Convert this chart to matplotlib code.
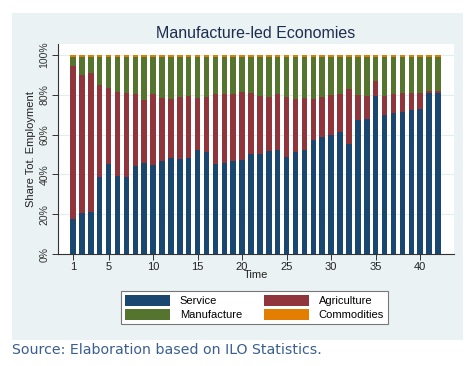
import matplotlib
matplotlib.use("Agg")
import matplotlib.pyplot as plt
import matplotlib.patches as mpatches
import numpy as np

time = list(range(1, 43))
service = [17.6, 20.8, 21.3, 38.5, 45.4, 39.2, 38.9, 44.2, 45.9, 44.6,
           46.9, 48.4, 47.6, 48.4, 52.3, 51.4, 45.4, 45.7, 46.6, 47.4,
           50.3, 50.4, 51.6, 52.1, 48.9, 51.3, 52.4, 57.5, 58.6, 59.8,
           61.3, 55.1, 67.5, 68.0, 79.6, 69.7, 71.0, 71.5, 72.4, 72.9,
           80.7, 80.7]
agri_top = [94.5, 90.1, 90.8, 84.9, 83.2, 81.6, 80.9, 80.2, 77.4, 80.2,
            78.2, 77.9, 79.1, 79.6, 78.2, 79.1, 80.4, 80.4, 80.4, 81.6,
            80.8, 79.6, 79.1, 80.2, 78.7, 77.7, 78.2, 77.9, 78.7, 79.7,
            80.4, 82.9, 79.9, 79.6, 87.1, 79.6, 80.4, 80.8, 80.8, 81.1,
            81.9, 81.9]
agriculture = [a - s for a, s in zip(agri_top, service)]
commodities = [0.8] * 42
manufacture = [100 - a - c for a, c in zip(agri_top, commodities)]

colors = {"Service": "#1a476f", "Agriculture": "#90353b",
          "Manufacture": "#55752f", "Commodities": "#e37e00"}

W, H = 472, 366
fig = plt.figure(figsize=(W / 100, H / 100), dpi=100)
fig.patch.set_facecolor("white")
bg = mpatches.Rectangle((12 / W, (H - 340) / H), 451 / W, 327 / H,
                        transform=fig.transFigure, facecolor="#eaf2f3",
                        edgecolor="none", zorder=-10)
fig.patches.append(bg)

ax = fig.add_axes([58 / W, (H - 254) / H, (454 - 58) / W, (254 - 44) / H])
ax.set_zorder(1)
ax.set_facecolor("white")
x = np.array(time)
w = 0.62
ax.bar(x, service, w, color=colors["Service"], label="Service", zorder=2)
ax.bar(x, agriculture, w, bottom=service, color=colors["Agriculture"], label="Agriculture", zorder=2)
ax.bar(x, manufacture, w, bottom=agri_top, color=colors["Manufacture"], label="Manufacture", zorder=2)
ax.bar(x, commodities, w, bottom=[a + m for a, m in zip(agri_top, manufacture)],
       color=colors["Commodities"], label="Commodities", zorder=2)

ax.set_xlim(-0.68, 43.8)
ax.set_ylim(0, 105.5)
ax.set_yticks([0, 20, 40, 60, 80, 100])
ax.set_yticklabels(["0%", "20%", "40%", "60%", "80%", "100%"], rotation=90,
                   va="center", fontsize=7.5, family="Liberation Sans", color="#333333")
ax.set_xticks([1, 5, 10, 15, 20, 25, 30, 35, 40])
ax.set_xticklabels(["1", "5", "10", "15", "20", "25", "30", "35", "40"],
                   fontsize=8, family="Liberation Sans", color="#222222")
ax.yaxis.grid(True, color="#e3edef", linewidth=0.8, zorder=0)
ax.set_axisbelow(True)
for s in ["top", "right"]:
    ax.spines[s].set_visible(False)
for s in ["left", "bottom"]:
    ax.spines[s].set_color("#333333")
    ax.spines[s].set_linewidth(0.8)
ax.tick_params(axis="both", length=4, width=0.7, color="#333333", pad=2)
ax.set_xlabel("Time", fontsize=8, family="Liberation Sans", labelpad=-2, color="#222222")
ax.set_ylabel("Share Tot. Employment", fontsize=8, family="Liberation Sans", labelpad=3, color="#222222")

fig.text(256 / W, 1 - 33 / H, "Manufacture-led Economies", ha="center", va="center",
         fontsize=11.5, family="Liberation Sans", color="#1e2d4f")

handles = [mpatches.Patch(facecolor=colors[k], edgecolor="none") for k in
           ["Service", "Manufacture", "Agriculture", "Commodities"]]
labels = ["Service", "Manufacture", "Agriculture", "Commodities"]
leg = fig.legend(handles, labels, ncol=2, loc="center",
                 bbox_to_anchor=(254.5 / W, 1 - 307.5 / H),
                 frameon=True, fancybox=False, edgecolor="#777777",
                 prop={"family": "Liberation Sans", "size": 8},
                 handlelength=4.0, handleheight=1.1, columnspacing=2.0,
                 labelspacing=0.25, borderpad=0.35, handletextpad=0.9)
leg.get_frame().set_linewidth(0.8)
leg.get_frame().set_facecolor("white")
leg.get_frame().set_alpha(1)

fig.text(12 / W, 1 - 350 / H, "Source: Elaboration based on ILO Statistics.",
         ha="left", va="center", fontsize=10.2, family="DejaVu Sans", color="#3a5f8f")

fig.savefig("out.png", dpi=100)
